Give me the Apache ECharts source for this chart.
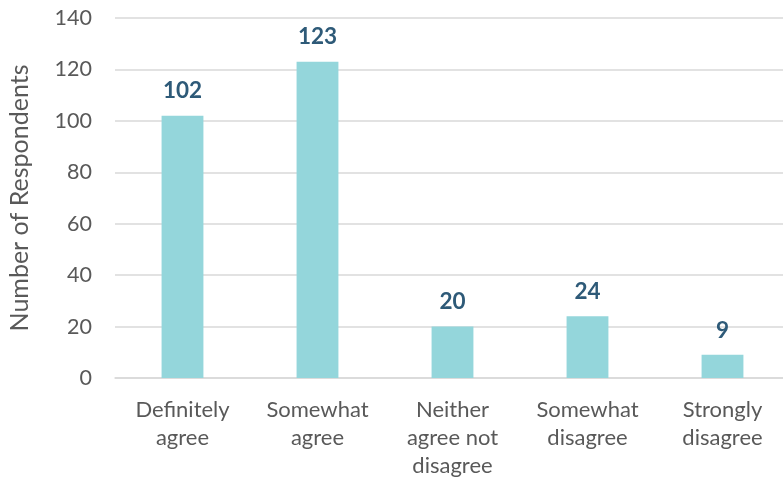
<!DOCTYPE html>
<html><head><meta charset="utf-8">
<script src="https://cdn.jsdelivr.net/npm/echarts@6/dist/echarts.min.js"></script>
<style>html,body{margin:0;padding:0;background:#fff}#c{width:783px;height:480px}</style>
</head><body><div id="c"></div>
<script>
const categories = ['Definitely\nagree', 'Somewhat\nagree', 'Neither\nagree not\ndisagree', 'Somewhat\ndisagree', 'Strongly\ndisagree'];
const values = [102, 123, 20, 24, 9];
const yTicks = [0, 20, 40, 60, 80, 100, 120, 140];
const yTitle = 'Number of Respondents';

const chart = echarts.init(document.getElementById('c'));
chart.setOption({
  animation: false,
  grid: { left: 115, width: 675, top: 18, bottom: 102, containLabel: false, outerBoundsMode: 'none' },
  xAxis: {
    type: 'category', data: categories,
    axisLine: { lineStyle: { color: '#d9d9d9', width: 1.5 } },
    axisTick: { show: false },
    axisLabel: { color: '#595959', fontSize: 22, lineHeight: 28, margin: 18, fontFamily: 'Lato, sans-serif', interval: 0 }
  },
  yAxis: {
    type: 'value', min: yTicks[0], max: yTicks[yTicks.length - 1], interval: 20,
    name: yTitle, nameLocation: 'middle', nameGap: 83, nameRotate: 90,
    nameTextStyle: { color: '#595959', fontSize: 25, fontFamily: 'Lato, sans-serif' },
    axisLine: { show: false }, axisTick: { show: false },
    axisLabel: { color: '#595959', fontSize: 21.5, margin: 23, fontFamily: 'Lato, sans-serif' },
    splitLine: { lineStyle: { color: '#d9d9d9', width: 1.5 } }
  },
  series: [{
    type: 'bar', data: values, barWidth: '31%',
    itemStyle: { color: '#94d6db' },
    label: { show: true, position: 'top', distance: 13, color: '#2e5a78', fontWeight: 'bold', fontSize: 22.5, fontFamily: 'Lato, sans-serif' }
  }]
});
</script></body></html>
